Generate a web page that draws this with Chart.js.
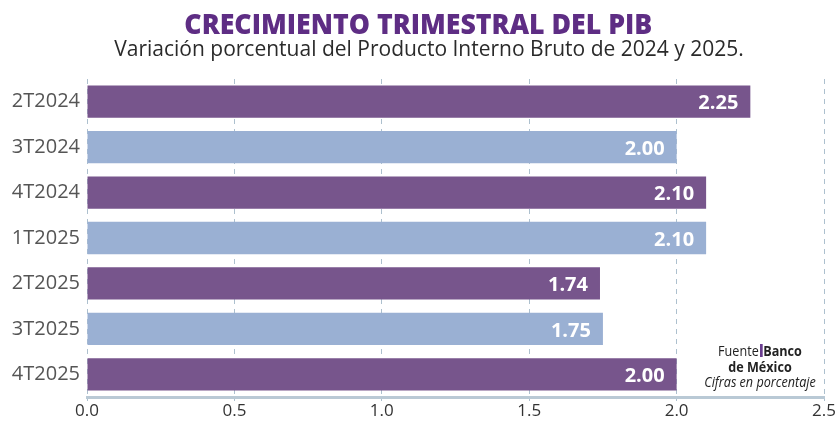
<!DOCTYPE html>
<html><head><meta charset="utf-8">
<script src="https://cdn.jsdelivr.net/npm/chart.js@4.4.1/dist/chart.umd.min.js"></script>
<style>
html,body{margin:0;padding:0;background:#fff;}
#wrap{position:relative;width:836px;height:425px;}
#title{position:absolute;left:0;width:836px;top:8px;text-align:center;font-family:"Open Sans",sans-serif;font-weight:800;font-size:29px;line-height:29px;color:#5e2d84;white-space:nowrap;}
#title span{display:inline-block;transform:scaleX(0.92);transform-origin:center;}
#subtitle{position:absolute;left:11px;width:836px;top:38px;text-align:center;font-family:"Open Sans",sans-serif;font-size:21px;line-height:21px;color:#2a2a2a;white-space:nowrap;}
#note{position:absolute;left:690px;top:343px;width:140px;text-align:center;font-family:"Open Sans",sans-serif;font-size:14px;line-height:15.5px;color:#222;}
#note div{transform:scaleX(0.9);transform-origin:center;}
#note .bar{display:inline-block;width:3px;height:13px;background:#6a3d8f;vertical-align:-1px;margin:0 1px;}
</style></head>
<body><div id="wrap"><canvas id="c" width="836" height="425"></canvas>
<div id="title"><span>CRECIMIENTO TRIMESTRAL DEL PIB</span></div>
<div id="subtitle">Variación porcentual del Producto Interno Bruto de 2024 y 2025.</div>
<div id="note"><div>Fuente<span class="bar"></span><b>Banco</b><br><b>de México</b><br><i>Cifras en porcentaje</i></div></div></div>
<script>
const categories = ["2T2024","3T2024","4T2024","1T2025","2T2025","3T2025","4T2025"];
const values = [2.25, 2.00, 2.10, 2.10, 1.74, 1.75, 2.00];
const valueLabels = ["2.25","2.00","2.10","2.10","1.74","1.75","2.00"];
const xTicks = [0, 0.5, 1.0, 1.5, 2.0, 2.5];
const purple = "#77558c", blue = "#9ab0d3";
const colors = categories.map((c,i)=> i%2===0 ? purple : blue);

const valuePlugin = {
  id:'vals',
  afterDatasetsDraw(chart){
    const ctx = chart.ctx;
    const meta = chart.getDatasetMeta(0);
    ctx.save();
    ctx.font = 'bold 20px "Open Sans", sans-serif';
    ctx.fillStyle = '#fff';
    ctx.textAlign = 'right';
    ctx.textBaseline = 'middle';
    meta.data.forEach((bar,i)=>{
      ctx.fillText(valueLabels[i], bar.x - 12, bar.y + 2);
    });
    ctx.restore();
  }
};

new Chart(document.getElementById('c'), {
  type:'bar',
  data:{labels:categories, datasets:[{data:values, backgroundColor:colors, barPercentage:0.71, categoryPercentage:1.0}]},
  options:{
    indexAxis:'y', responsive:false, animation:false,
    layout:{padding:{top:79,right:11,left:0,bottom:0}},
    plugins:{ legend:{display:false}, tooltip:{enabled:false} },
    scales:{
      x:{min:0,max:2.5,
        afterBuildTicks(s){ s.ticks = xTicks.map(v=>({value:v})); },
        afterFit(s){ s.height = 28; },
        ticks:{color:'#333', font:{family:'"Open Sans", sans-serif', size:17}, padding:0,
          callback:(v)=>Number(v).toFixed(1)},
        grid:{color:'#adc0ce', lineWidth:1, tickLength:4, tickColor:'#adc0ce'},
        border:{display:true, color:'#b9c9d5', width:3, dash:[5,5]}
      },
      y:{
        afterFit(s){ s.width = 87; },
        ticks:{color:'#555', font:{family:'"Open Sans", sans-serif', size:20}, padding:7},
        grid:{display:false, drawTicks:false},
        border:{display:false}
      }
    }
  },
  plugins:[valuePlugin]
});
</script></body></html>
